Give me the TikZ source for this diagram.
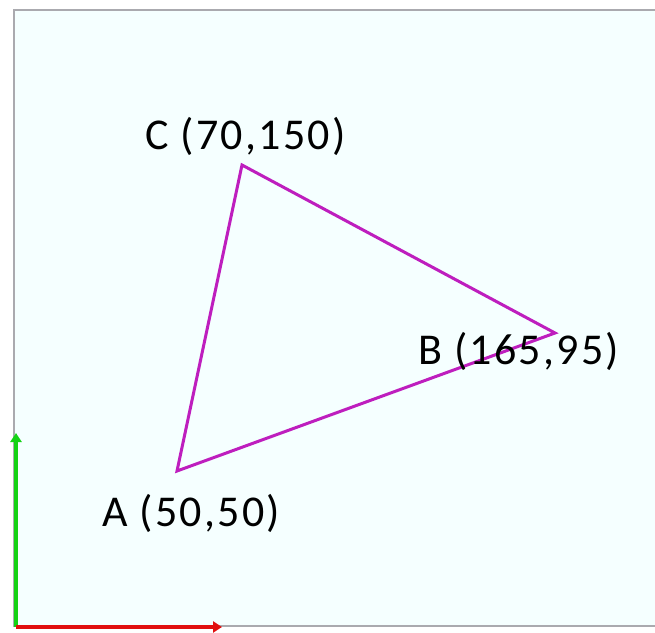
\documentclass[tikz,border=0pt]{standalone}
\usepackage{fontspec}
\setmainfont{Carlito}[LetterSpace=5]
\usetikzlibrary{arrows.meta}
\definecolor{bgc}{RGB}{245,255,255}
\definecolor{framec}{RGB}{170,170,175}
\definecolor{tri}{RGB}{190,30,190}
\definecolor{axg}{RGB}{20,210,20}
\definecolor{axr}{RGB}{225,15,15}
\tikzset{
  lbl/.style={anchor=base west,inner sep=0pt,font=\fontsize{44}{50}\selectfont},
  edge/.style={draw=tri,line width=3pt,line join=miter},
  axis/.style={line width=4pt,-{Triangle[length=9pt,width=11pt]}}
}
\begin{document}
\begin{tikzpicture}[x=1pt,y=1pt]
\useasboundingbox (0,0) rectangle (655,632);
\fill[bgc] (14,6) rectangle (655,622);
\draw[framec,line width=2pt] (655,622) -- (14,622) -- (14,6) -- (655,6);
\coordinate (O) at (16,5);
\coordinate (Y) at (16,199);
\coordinate (X) at (222,5);
\draw[axis,axg] (O) -- (Y);
\draw[axis,axr] (O) -- (X);
\coordinate (A) at (177,161);
\coordinate (B) at (555,299);
\coordinate (C) at (242,467);
\draw[edge] (A) -- (B) -- (C) -- cycle;
\node[lbl] (la) at (102,106) {A (50,50)};
\node[lbl] (lb) at (418,267) {B (165,95)};
\node[lbl] (lc) at (145,482) {C (70,150)};
\end{tikzpicture}
\end{document}
